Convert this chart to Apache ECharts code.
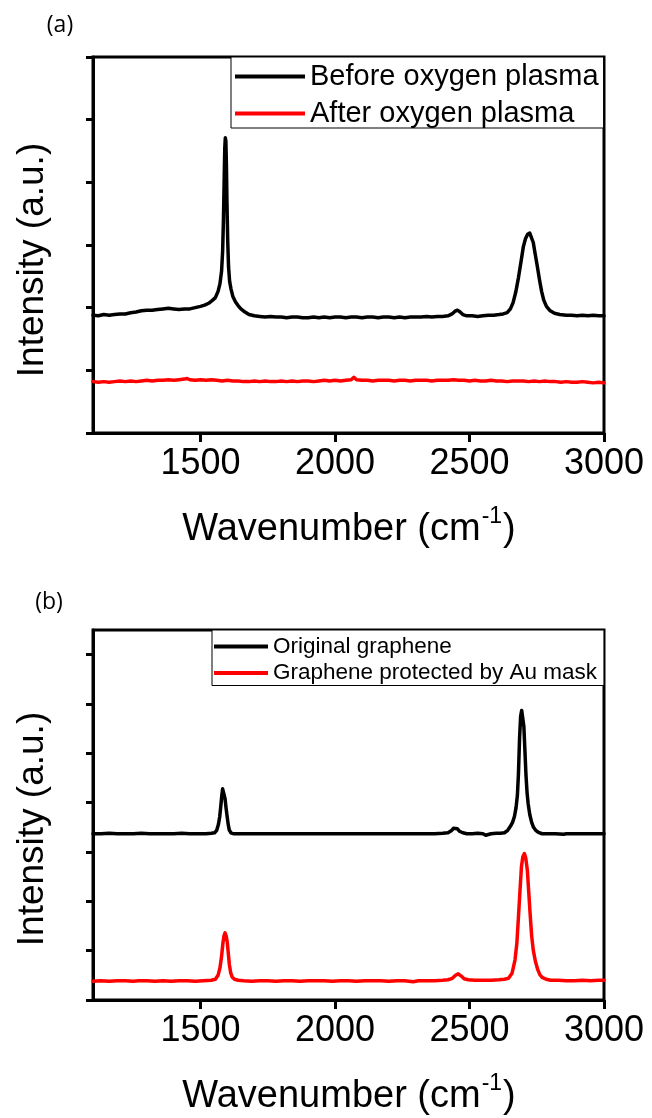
<!DOCTYPE html>
<html>
<head>
<meta charset="utf-8">
<title>Raman spectra</title>
<script src="https://cdn.jsdelivr.net/npm/echarts@6/dist/echarts.min.js"></script>
<style>
  html, body { margin: 0; padding: 0; background: #fff; }
  #chart { width: 652px; height: 1118px; }
</style>
</head>
<body>
<div id="chart"></div>
<script>
// ---- Raman spectra: wavenumber (cm^-1), intensity (a.u., offset traces) ----

// Panel (a)
const beforePlasma = [
  [1100,1.88],[1120,1.87],[1140,1.89],[1160,1.88],[1180,1.89],[1200,1.90],[1220,1.90],[1240,1.92],
  [1260,1.93],[1280,1.95],[1300,1.96],[1320,1.96],[1340,1.97],[1360,1.98],[1380,1.99],[1400,1.98],
  [1420,1.97],[1440,1.98],[1460,1.98],[1480,2.00],[1500,2.02],[1515,2.04],[1530,2.07],[1545,2.12],
  [1555,2.16],[1565,2.26],[1572,2.38],[1578,2.58],[1582,2.90],[1585,3.40],[1588,4.10],[1590,4.55],
  [1592,4.71],[1594,4.66],[1596,4.30],[1598,3.70],[1601,3.05],[1604,2.65],[1608,2.42],[1613,2.30],
  [1620,2.18],[1630,2.09],[1640,2.03],[1650,1.98],[1665,1.93],[1680,1.89],[1700,1.87],[1720,1.86],
  [1740,1.85],[1760,1.86],[1780,1.85],[1800,1.85],[1820,1.84],[1840,1.85],[1860,1.85],[1880,1.84],
  [1900,1.84],[1920,1.85],[1940,1.84],[1960,1.85],[1980,1.84],[2000,1.85],[2020,1.85],[2040,1.84],
  [2060,1.85],[2080,1.85],[2100,1.84],[2120,1.85],[2140,1.85],[2160,1.84],[2180,1.85],[2200,1.85],
  [2220,1.84],[2240,1.85],[2260,1.84],[2280,1.85],[2300,1.85],[2320,1.85],[2340,1.86],[2360,1.85],
  [2380,1.86],[2400,1.86],[2420,1.87],[2435,1.90],[2445,1.94],[2455,1.96],[2465,1.93],[2475,1.89],
  [2490,1.87],[2510,1.87],[2530,1.86],[2550,1.87],[2570,1.88],[2590,1.88],[2610,1.89],[2625,1.90],
  [2640,1.92],[2652,1.98],[2662,2.08],[2672,2.25],[2682,2.48],[2692,2.75],[2700,2.97],[2708,3.10],
  [2716,3.17],[2724,3.19],[2730,3.17],[2737,3.04],[2744,2.86],[2752,2.66],[2760,2.45],[2768,2.26],
  [2776,2.12],[2786,2.02],[2800,1.95],[2816,1.91],[2835,1.89],[2860,1.88],[2880,1.88],[2900,1.87],
  [2920,1.88],[2940,1.87],[2960,1.88],[2980,1.87],[3000,1.87]
];

const afterPlasma = [
  [1100,0.82],[1120,0.81],[1140,0.82],[1160,0.81],[1180,0.82],[1200,0.83],[1220,0.82],[1240,0.83],
  [1260,0.82],[1280,0.83],[1300,0.84],[1320,0.83],[1340,0.84],[1360,0.84],[1380,0.85],[1400,0.84],
  [1420,0.85],[1440,0.86],[1450,0.87],[1460,0.85],[1480,0.84],[1500,0.85],[1520,0.84],[1540,0.85],
  [1560,0.84],[1580,0.83],[1600,0.84],[1620,0.83],[1640,0.83],[1660,0.82],[1680,0.82],[1700,0.83],
  [1720,0.82],[1740,0.83],[1760,0.82],[1780,0.82],[1800,0.83],[1820,0.82],[1840,0.83],[1860,0.82],
  [1880,0.83],[1900,0.83],[1920,0.82],[1940,0.83],[1960,0.84],[1980,0.83],[2000,0.84],[2020,0.83],
  [2040,0.84],[2060,0.85],[2070,0.89],[2080,0.85],[2100,0.84],[2120,0.84],[2140,0.83],[2160,0.84],
  [2180,0.84],[2200,0.84],[2220,0.83],[2240,0.84],[2260,0.84],[2280,0.83],[2300,0.84],[2320,0.84],
  [2340,0.84],[2360,0.83],[2380,0.84],[2400,0.84],[2420,0.84],[2440,0.85],[2460,0.84],[2480,0.84],
  [2500,0.83],[2520,0.84],[2540,0.83],[2560,0.83],[2580,0.84],[2600,0.83],[2620,0.83],[2640,0.82],
  [2660,0.83],[2680,0.83],[2700,0.83],[2720,0.82],[2740,0.83],[2760,0.82],[2780,0.83],[2800,0.82],
  [2820,0.82],[2840,0.81],[2860,0.82],[2880,0.81],[2900,0.81],[2920,0.82],[2940,0.81],[2960,0.80],
  [2980,0.81],[3000,0.80]
];

// Panel (b)
const originalGraphene = [
  [1100,3.37],[1130,3.37],[1160,3.38],[1190,3.37],[1220,3.37],[1250,3.37],[1280,3.38],[1310,3.37],
  [1340,3.37],[1370,3.37],[1400,3.37],[1430,3.38],[1460,3.37],[1490,3.37],[1520,3.37],[1540,3.38],
  [1552,3.39],[1560,3.44],[1566,3.55],[1571,3.71],[1575,3.92],[1579,4.15],[1582,4.28],[1585,4.31],
  [1588,4.25],[1591,4.08],[1595,3.88],[1599,3.71],[1603,3.55],[1607,3.44],[1613,3.39],[1622,3.37],
  [1650,3.37],[1680,3.37],[1710,3.37],[1740,3.37],[1770,3.37],[1800,3.37],[1830,3.37],[1860,3.37],
  [1890,3.37],[1920,3.37],[1950,3.37],[1980,3.37],[2010,3.37],[2040,3.37],[2070,3.37],[2100,3.37],
  [2130,3.37],[2160,3.37],[2190,3.37],[2220,3.37],[2250,3.37],[2280,3.37],[2310,3.37],[2340,3.37],
  [2370,3.37],[2400,3.38],[2420,3.39],[2432,3.43],[2440,3.48],[2447,3.50],[2455,3.47],[2463,3.42],
  [2475,3.39],[2490,3.37],[2510,3.37],[2530,3.38],[2550,3.37],[2560,3.34],[2565,3.37],[2580,3.37],
  [2600,3.38],[2615,3.38],[2630,3.39],[2642,3.44],[2652,3.52],[2660,3.60],[2667,3.72],[2673,3.90],
  [2678,4.15],[2682,4.60],[2686,5.30],[2690,5.75],[2694,5.87],[2698,5.86],[2702,5.55],[2706,5.05],
  [2710,4.55],[2714,4.20],[2718,3.98],[2724,3.76],[2731,3.60],[2738,3.50],[2746,3.44],[2756,3.40],
  [2770,3.37],[2790,3.37],[2820,3.37],[2850,3.36],[2860,3.37],[2890,3.37],[2920,3.37],[2950,3.37],
  [2980,3.37],[3000,3.37]
];

const protectedGraphene = [
  [1100,0.38],[1130,0.39],[1160,0.38],[1190,0.39],[1220,0.39],[1250,0.38],[1270,0.39],[1300,0.39],
  [1330,0.38],[1360,0.39],[1390,0.38],[1420,0.39],[1450,0.39],[1480,0.38],[1510,0.39],[1540,0.40],
  [1555,0.42],[1565,0.50],[1572,0.65],[1578,0.88],[1583,1.15],[1587,1.30],[1591,1.36],[1595,1.30],
  [1599,1.18],[1603,0.95],[1607,0.72],[1612,0.55],[1618,0.46],[1626,0.42],[1640,0.40],[1660,0.39],
  [1690,0.38],[1720,0.39],[1750,0.39],[1780,0.38],[1810,0.39],[1840,0.39],[1870,0.38],[1900,0.39],
  [1930,0.39],[1960,0.39],[1990,0.38],[2020,0.39],[2050,0.39],[2080,0.38],[2110,0.39],[2140,0.39],
  [2170,0.39],[2200,0.38],[2230,0.39],[2260,0.39],[2290,0.37],[2310,0.39],[2340,0.39],[2370,0.39],
  [2400,0.40],[2420,0.41],[2436,0.44],[2448,0.50],[2458,0.53],[2468,0.49],[2480,0.43],[2495,0.41],
  [2520,0.40],[2550,0.40],[2580,0.40],[2610,0.41],[2630,0.42],[2645,0.44],[2658,0.54],[2669,0.81],
  [2676,1.15],[2682,1.69],[2688,2.25],[2693,2.70],[2698,2.90],[2704,2.97],[2709,2.88],[2715,2.63],
  [2720,2.20],[2726,1.69],[2731,1.30],[2737,1.01],[2745,0.78],[2754,0.61],[2762,0.51],[2770,0.46],
  [2785,0.42],[2801,0.40],[2830,0.40],[2860,0.39],[2890,0.39],[2920,0.40],[2950,0.39],[2980,0.40],
  [3000,0.40]
];

const xTickValues = [1500, 2000, 2500, 3000];
const yTicksA = [0, 1, 2, 3, 4, 5, 6];
const yTicksB = [0, 1, 2, 3, 4, 5, 6, 7];

// ---- styling ----
const FONT = '"Liberation Sans", Arial, Helvetica, sans-serif';
const BLACK = '#000000';
const RED = '#ff0000';

function makeXAxis(gridIndex) {
  return {
    type: 'value', gridIndex: gridIndex, min: 1100, max: 3000,
    axisLine: { show: true, lineStyle: { color: BLACK, width: 3 } },
    axisTick: { show: true, inside: false, length: 9, customValues: xTickValues,
                lineStyle: { color: BLACK, width: 3 } },
    axisLabel: { show: true, customValues: xTickValues, margin: 13, color: BLACK,
                 fontSize: 36, fontFamily: FONT,
                 formatter: function (v) { return String(v); } },
    splitLine: { show: false }
  };
}

function makeYAxis(gridIndex, max, ticks) {
  return {
    type: 'value', gridIndex: gridIndex, min: 0, max: max, interval: 1,
    axisLine: { show: true, lineStyle: { color: BLACK, width: 3 } },
    axisTick: { show: true, inside: false, length: 7, customValues: ticks,
                lineStyle: { color: BLACK, width: 3 } },
    axisLabel: { show: false },
    splitLine: { show: false }
  };
}

function lineSeries(name, data, color, axisIndex) {
  return {
    name: name, type: 'line', data: data,
    xAxisIndex: axisIndex, yAxisIndex: axisIndex,
    symbol: 'none', showSymbol: false, smooth: false, silent: true,
    lineStyle: { color: color, width: 3.5, join: 'round', cap: 'round' },
    itemStyle: { color: color }
  };
}

const titleFont = '38px ' + FONT;
const supFont = '23px ' + FONT;

function xTitle(cy) {
  return {
    type: 'text', x: 349, y: cy, silent: true,
    style: {
      text: '{a|Wavenumber (cm}{s|-1}{a|)}',
      align: 'center', verticalAlign: 'middle', fill: BLACK,
      rich: {
        a: { font: titleFont, fill: BLACK, lineHeight: 49 },
        s: { font: supFont, fill: BLACK, verticalAlign: 'top', padding: [0, 1, 0, 1] }
      }
    }
  };
}

function yTitle(cy) {
  return {
    type: 'text', x: 33, y: cy, rotation: Math.PI / 2, silent: true,
    style: { text: 'Intensity (a.u.)', font: '37px ' + FONT, fill: BLACK,
             align: 'center', verticalAlign: 'middle' }
  };
}

function panelLabel(text, cx, cy) {
  return {
    type: 'text', x: cx, y: cy, silent: true,
    style: { text: text, font: '23px "Open Sans", ' + FONT, fill: BLACK,
             align: 'center', verticalAlign: 'middle' }
  };
}

const option = {
  animation: false,
  backgroundColor: '#ffffff',
  grid: [
    { left: 93, top: 57, width: 511, height: 376, show: true,
      borderColor: BLACK, borderWidth: 3, outerBoundsMode: 'none' },
    { left: 93, top: 630, width: 511, height: 370, show: true,
      borderColor: BLACK, borderWidth: 3, outerBoundsMode: 'none' }
  ],
  xAxis: [ makeXAxis(0), makeXAxis(1) ],
  yAxis: [ makeYAxis(0, 6, yTicksA), makeYAxis(1, 7.5, yTicksB) ],
  legend: [
    {
      data: ['Before oxygen plasma', 'After oxygen plasma'],
      orient: 'vertical', left: 231, top: 57,
      padding: [5, 5, 0, 4], itemGap: 8, itemWidth: 70, itemHeight: 4,
      icon: 'rect',
      borderColor: BLACK, borderWidth: 1, borderRadius: 0, backgroundColor: '#ffffff',
      selectedMode: false,
      textStyle: { fontSize: 29, color: BLACK, fontFamily: FONT }
    },
    {
      data: ['Original graphene', 'Graphene protected by Au mask'],
      orient: 'vertical', left: 212, top: 630,
      padding: [5, 7, 1, 2], itemGap: 3.5, itemWidth: 54, itemHeight: 4,
      icon: 'rect',
      borderColor: BLACK, borderWidth: 1, borderRadius: 0, backgroundColor: '#ffffff',
      selectedMode: false,
      textStyle: { fontSize: 22.5, color: BLACK, fontFamily: FONT }
    }
  ],
  series: [
    lineSeries('Before oxygen plasma', beforePlasma, BLACK, 0),
    lineSeries('After oxygen plasma', afterPlasma, RED, 0),
    lineSeries('Original graphene', originalGraphene, BLACK, 1),
    lineSeries('Graphene protected by Au mask', protectedGraphene, RED, 1)
  ],
  graphic: [
    panelLabel('(a)', 60, 25),
    panelLabel('(b)', 49, 602),
    yTitle(260),
    yTitle(829),
    xTitle(530),
    xTitle(1097)
  ]
};

const chart = echarts.init(document.getElementById('chart'), null, { renderer: 'canvas' });
chart.setOption(option);
</script>
</body>
</html>
